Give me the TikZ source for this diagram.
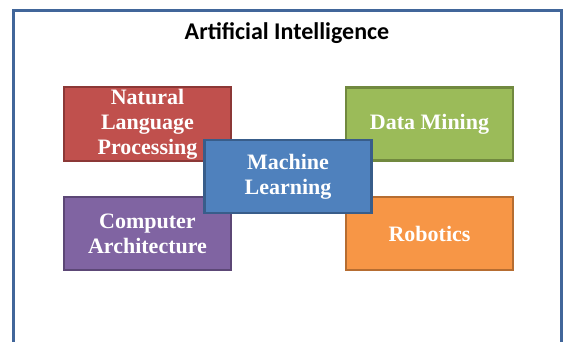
\documentclass[tikz,border=0pt]{standalone}
\usepackage{fontspec}
\setmainfont{Liberation Serif}
\newfontfamily\titlefont{Carlito}
\usetikzlibrary{positioning}
\definecolor{frameblue}{HTML}{41669A}
\definecolor{nlpred}{HTML}{C0504D}
\definecolor{nlpredline}{HTML}{8C3836}
\definecolor{dmgreen}{HTML}{9BBB59}
\definecolor{dmgreenline}{HTML}{71893F}
\definecolor{capurple}{HTML}{8064A2}
\definecolor{capurpleline}{HTML}{5C4776}
\definecolor{roborange}{HTML}{F79646}
\definecolor{roborangeline}{HTML}{B66D31}
\definecolor{mlblue}{HTML}{4F81BD}
\definecolor{mlblueline}{HTML}{385D8A}
\tikzset{
    field/.style args={#1 #2}{
        draw=#2, fill=#1, line width=2.5pt, rectangle,
        minimum width=167pt, minimum height=73pt, inner sep=2pt,
        align=center, text=white,
        font=\bfseries\fontsize{22}{25}\selectfont
    },
    field/.default={mlblue mlblueline}
}
\begin{document}
\begin{tikzpicture}[x=1pt, y=-1pt]
    \useasboundingbox (0,0) rectangle (565,341);
    \clip (0,0) rectangle (565,341);
    \draw[frameblue, line width=2.8pt] (13.5,10.5) rectangle (561.5,360);
    \node[font=\titlefont\bfseries\fontsize{24}{28}\selectfont] (ai) at (287,33) {Artificial Intelligence};
    \node[field={nlpred nlpredline}] (nlp) at (147.5,124) {Natural\\Language\\Processing};
    \node[field={dmgreen dmgreenline}] (dm) at (429.5,124) {Data Mining};
    \node[field={capurple capurpleline}] (ca) at (147.5,233.5) {Computer\\Architecture};
    \node[field={roborange roborangeline}] (rob) at (429.5,233.5) {Robotics};
    \node[field] (ml) at (288,176.5) {Machine\\Learning};
\end{tikzpicture}
\end{document}
